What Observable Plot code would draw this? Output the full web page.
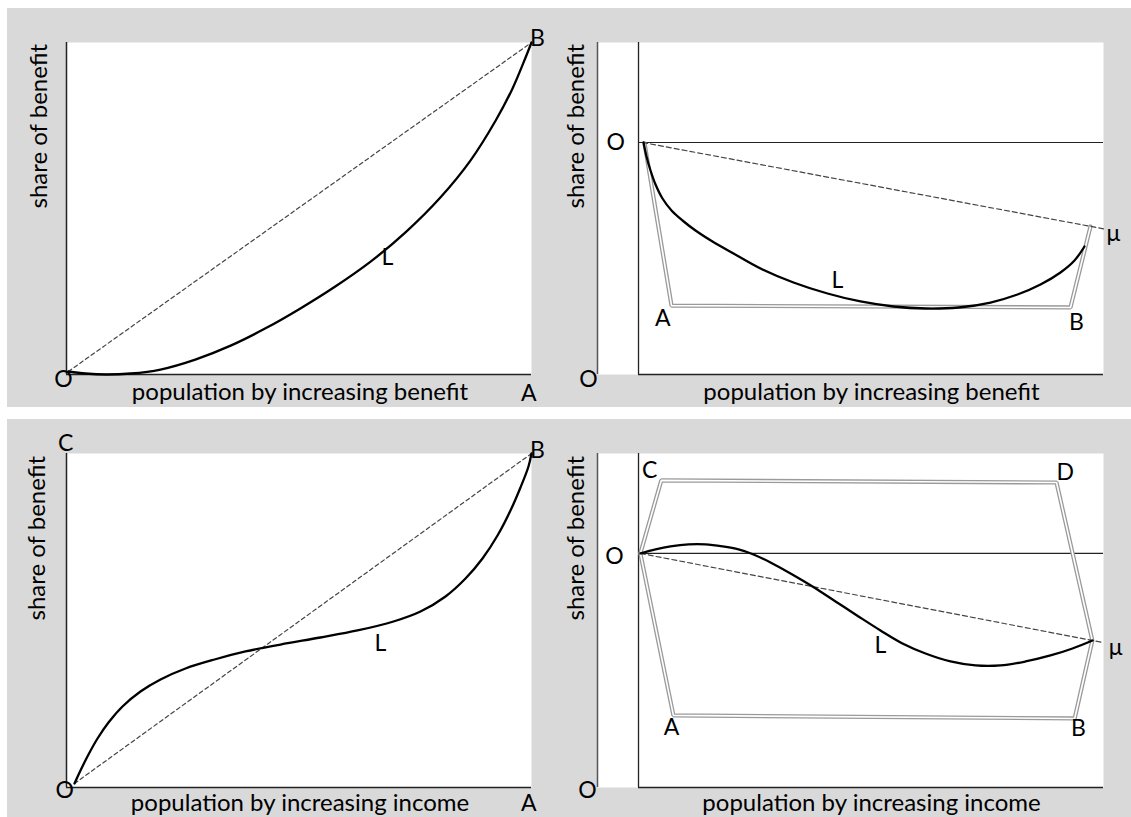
<!DOCTYPE html>
<html><head><meta charset="utf-8">
<script src="https://cdn.jsdelivr.net/npm/d3@7"></script>
<script src="https://cdn.jsdelivr.net/npm/@observablehq/plot@0.6"></script>
<style>
html,body{margin:0;padding:0;background:#fff;}
#root{position:relative;width:1131px;height:817px;overflow:hidden;}
.band{position:absolute;background:#d9d9d9;}
.panel{position:absolute;}
</style></head><body>
<div id="root">
  <div class="band" style="left:7px;top:8px;width:1124px;height:399px"></div>
  <div class="band" style="left:7px;top:419px;width:1124px;height:398px"></div>
</div>
<script>
// ---------- data (fractions of population / share of benefit) ----------
const titleBenefit = "population by increasing benefit";
const titleIncome = "population by increasing income";
const titleShare = "share of benefit";

// top-left: concentration curve by increasing benefit
const tlCurveX = [0.004, 0.041, 0.084, 0.138, 0.202, 0.277, 0.353, 0.428, 0.503, 0.578, 0.654, 0.729, 0.804, 0.869, 0.923, 0.959, 0.983, 1];
const tlCurveY = [0.009, 0.003, 0.0, 0.003, 0.015, 0.045, 0.087, 0.139, 0.199, 0.265, 0.340, 0.428, 0.533, 0.645, 0.765, 0.861, 0.940, 1];
const tlDiagX = [0.004, 1];
const tlDiagY = [0.009, 1];
const tlLabelText = ["O", "A", "B", "L"];
const tlLabelX = [-0.0065, 0.994, 1.013, 0.690];
const tlLabelY = [-0.015, -0.057, 1.012, 0.352];

// top-right: negative-benefit case
const trCurveX = [0.0108, 0.0172, 0.0258, 0.0366, 0.0516, 0.071, 0.0946, 0.1226, 0.1591, 0.2043, 0.2624, 0.3333, 0.4065, 0.4774, 0.5484, 0.6172, 0.6882, 0.757, 0.8151, 0.8645, 0.9075, 0.9376, 0.9591];
const trCurveY = [0, -0.0603, -0.1207, -0.181, -0.2414, -0.2931, -0.3362, -0.3793, -0.4267, -0.4784, -0.5431, -0.6034, -0.6509, -0.6853, -0.7069, -0.7155, -0.7112, -0.6897, -0.6552, -0.6121, -0.5603, -0.5086, -0.4483];
const trBoundX = [0.013, 0.071, 0.929, 0.972];
const trBoundY = [-0.004, -0.703, -0.711, -0.362];
const trMeanX = [0.009, 1];
const trMeanY = [0, -0.372];
const trLabelText = ["O", "O", "A", "B", "L", "μ"];
const trLabelX = [-0.049, -0.1075, 0.052, 0.942, 0.428, 1.021];
const trLabelY = [0, -1.022, -0.759, -0.776, -0.595, -0.392];

// bottom-left: by increasing income
const blCurveX = [0.0172, 0.0301, 0.0473, 0.0667, 0.0903, 0.1204, 0.1591, 0.2022, 0.2559, 0.3183, 0.3849, 0.4602, 0.5462, 0.6258, 0.7032, 0.7613, 0.8151, 0.8581, 0.8946, 0.9269, 0.9548, 0.9763, 0.9935, 1];
const blCurveY = [0.012, 0.0509, 0.0988, 0.1467, 0.1946, 0.2425, 0.2874, 0.3234, 0.3563, 0.3832, 0.4072, 0.4281, 0.4491, 0.4701, 0.497, 0.5269, 0.5719, 0.6257, 0.6856, 0.7545, 0.8293, 0.8982, 0.9611, 1];
const blDiagX = [0.0172, 1];
const blDiagY = [0.012, 1];
const blLabelText = ["O", "C", "B", "A", "L"];
const blLabelX = [-0.004, -0.002, 1.013, 0.994, 0.675];
const blLabelY = [-0.009, 1.03, 1.009, -0.048, 0.431];

// bottom-right: mixed-sign case by income
const brCurveX = [0.0043, 0.0366, 0.0688, 0.1075, 0.1441, 0.1806, 0.2151, 0.2473, 0.2839, 0.3269, 0.3742, 0.4237, 0.4731, 0.5204, 0.5677, 0.6172, 0.671, 0.7247, 0.7785, 0.8323, 0.886, 0.9333, 0.9763];
const brCurveY = [0, 0.0171, 0.0299, 0.0385, 0.0385, 0.0299, 0.0171, -0.0043, -0.0385, -0.0855, -0.141, -0.2051, -0.2692, -0.3291, -0.3846, -0.4274, -0.4615, -0.4786, -0.4786, -0.4615, -0.4359, -0.406, -0.3718];
const brBoundX = [0.004, 0.049, 0.899, 0.976, 0.938, 0.075, 0.004];
const brBoundY = [0, 0.312, 0.303, -0.372, -0.705, -0.692, 0];
const brMeanX = [0.004, 1];
const brMeanY = [0, -0.381];
const brLabelText = ["C", "D", "O", "O", "L", "μ", "A", "B"];
const brLabelX = [0.024, 0.918, -0.052, -0.110, 0.520, 1.026, 0.071, 0.946];
const brLabelY = [0.355, 0.346, -0.013, -1.013, -0.393, -0.402, -0.744, -0.748];

// ---------- helpers ----------
const pts = (xs, ys) => xs.map((x, i) => ({x, y: ys[i]}));
const labs = (t, xs, ys) => t.map((s, i) => ({s, x: xs[i], y: ys[i]}));
const FONT = "Lato, 'Open Sans', sans-serif";
const FS_LABEL = 23;
const FS_TITLE = 24;

function panel({left, top, width, height, margins, xDomain, yDomain, curve, diag, bound, labels,
                xTitle, xTitleDx, xTitleDy, yTitleDx, split}) {
  const marks = [
    Plot.frame({fill: "white", stroke: null})
  ];
  if (split) {
    marks.push(Plot.ruleX([xDomain[0]], {stroke: "#555", strokeWidth: 1.5}));
    marks.push(Plot.ruleX([0], {stroke: "#222", strokeWidth: 1.3}));
    marks.push(Plot.ruleY([{y: 0, x1: 0, x2: xDomain[1]}], {y: "y", x1: "x1", x2: "x2", stroke: "#222", strokeWidth: 1.2}));
    marks.push(Plot.ruleY([{y: yDomain[0], x1: 0, x2: xDomain[1]}], {y: "y", x1: "x1", x2: "x2", stroke: "#222", strokeWidth: 1.5}));
  } else {
    marks.push(Plot.ruleX([0], {stroke: "#222", strokeWidth: 1.5}));
    marks.push(Plot.ruleY([0], {stroke: "#222", strokeWidth: 1.5}));
  }
  if (bound) {
    marks.push(Plot.line(bound, {x: "x", y: "y", stroke: "#9a9a9a", strokeWidth: 4.2, strokeLinejoin: "miter"}));
    marks.push(Plot.line(bound, {x: "x", y: "y", stroke: "white", strokeWidth: 1.6, strokeLinejoin: "miter"}));
  }
  marks.push(Plot.line(diag, {x: "x", y: "y", stroke: "#444", strokeWidth: 1.2, strokeDasharray: split ? "5,3" : "4,3"}));
  marks.push(Plot.line(curve, {x: "x", y: "y", curve: "catmull-rom", stroke: "black", strokeWidth: 2.3}));
  marks.push(Plot.text(labels, {x: "x", y: "y", text: "s", fill: "black", fontSize: FS_LABEL}));
  marks.push(Plot.text([xTitle], {frameAnchor: "bottom", dy: xTitleDy, dx: xTitleDx, fill: "black", fontSize: FS_TITLE}));
  marks.push(Plot.text([titleShare], {frameAnchor: "left", rotate: -90, dx: yTitleDx, fill: "black", fontSize: FS_TITLE}));
  const svg = Plot.plot({
    width, height,
    marginLeft: margins[0], marginRight: margins[1], marginTop: margins[2], marginBottom: margins[3],
    x: {domain: xDomain, axis: null},
    y: {domain: yDomain, axis: null},
    style: {background: "transparent", fontFamily: FONT, color: "black", overflow: "visible"},
    marks
  });
  svg.classList.add("panel");
  svg.style.left = left + "px";
  svg.style.top = top + "px";
  svg.style.position = "absolute";
  document.getElementById("root").appendChild(svg);
}

panel({left: 7, top: 8, width: 559, height: 399, margins: [59, 35, 34, 33],
  xDomain: [0, 1], yDomain: [0, 1],
  curve: pts(tlCurveX, tlCurveY), diag: pts(tlDiagX, tlDiagY), labels: labs(tlLabelText, tlLabelX, tlLabelY),
  xTitle: titleBenefit, xTitleDx: 1, xTitleDy: 25, yTitleDx: -27});

panel({left: 566, top: 8, width: 565, height: 399, margins: [31, 28, 34, 33],
  xDomain: [-0.0882, 1], yDomain: [-1, 0.431], split: true,
  curve: pts(trCurveX, trCurveY), diag: pts(trMeanX, trMeanY), bound: pts(trBoundX, trBoundY),
  labels: labs(trLabelText, trLabelX, trLabelY),
  xTitle: titleBenefit, xTitleDx: 21, xTitleDy: 25, yTitleDx: -21});

panel({left: 7, top: 419, width: 559, height: 398, margins: [59, 35, 34, 30],
  xDomain: [0, 1], yDomain: [0, 1],
  curve: pts(blCurveX, blCurveY), diag: pts(blDiagX, blDiagY), labels: labs(blLabelText, blLabelX, blLabelY),
  xTitle: titleIncome, xTitleDx: 1, xTitleDy: 23, yTitleDx: -29});

panel({left: 566, top: 419, width: 565, height: 398, margins: [31, 28, 34, 30],
  xDomain: [-0.0882, 1], yDomain: [-1, 0.427], split: true,
  curve: pts(brCurveX, brCurveY), diag: pts(brMeanX, brMeanY), bound: pts(brBoundX, brBoundY),
  labels: labs(brLabelText, brLabelX, brLabelY),
  xTitle: titleIncome, xTitleDx: 21, xTitleDy: 23, yTitleDx: -21});
</script>
</body></html>
